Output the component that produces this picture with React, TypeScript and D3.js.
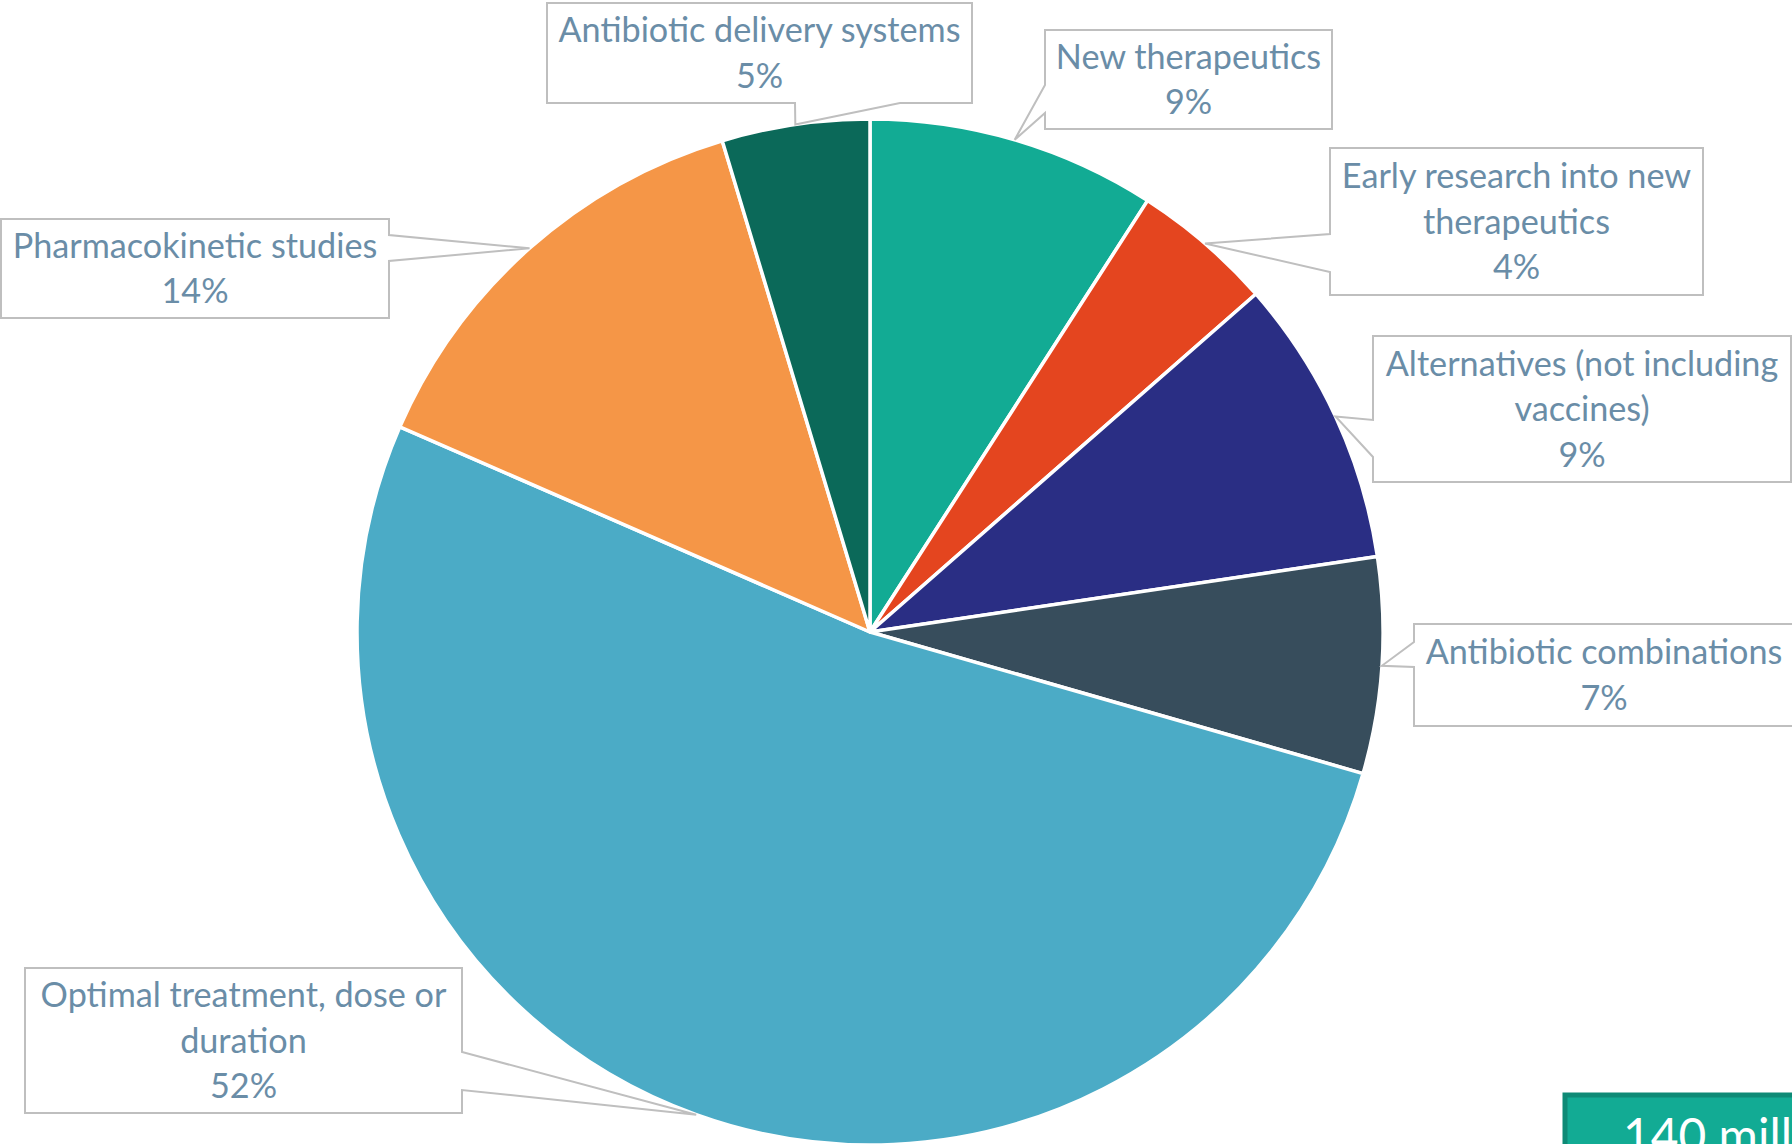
import React, { useLayoutEffect, useState } from "react";
import * as d3 from "d3";

// ---- data ----
const categories = [
  "New therapeutics",
  "Early research into new\ntherapeutics",
  "Alternatives (not including\nvaccines)",
  "Antibiotic combinations",
  "Optimal treatment, dose or\nduration",
  "Pharmacokinetic studies",
  "Antibiotic delivery systems",
];
const shares = [9.1, 4.45, 9.1, 6.8, 52.1, 13.8, 4.65];
const sliceColors = ["#12AB94", "#E4451F", "#2A2E84", "#374D5C", "#4BABC6", "#F59647", "#0B6959"];
const footerText = "140 million";

// ---- layout (callout boxes: x0,y0,x1,y1, side, attach a,b) ----
type Box = { x0: number; y0: number; x1: number; y1: number; side: "left" | "right" | "bottom"; a: number; b: number };
const boxes: Box[] = [
  { x0: 1045, y0: 30, x1: 1332, y1: 129, side: "left", a: 85, b: 113 },
  { x0: 1330, y0: 148, x1: 1703, y1: 295, side: "left", a: 234, b: 272 },
  { x0: 1373, y0: 336, x1: 1791, y1: 482, side: "left", a: 420, b: 457 },
  { x0: 1414, y0: 624, x1: 1794, y1: 726, side: "left", a: 642, b: 667 },
  { x0: 25, y0: 968, x1: 462, y1: 1113, side: "right", a: 1052, b: 1090 },
  { x0: 1, y0: 219, x1: 389, y1: 318, side: "right", a: 235, b: 261 },
  { x0: 547, y0: 3, x1: 972, y1: 103, side: "bottom", a: 795, b: 900 },
];

const W = 1792;
const H = 1144;
const CX = 870;
const CY = 632;
const R = 513;
const FONT_NAME = "Lato";
const FONT = "Lato, 'Noto Sans', sans-serif";
const TEXT_COLOR = "#6A8DA7";
const LINE_H = 45.5;

function calloutPath(bx: Box, tip: [number, number]) {
  const { x0, y0, x1, y1, side, a, b } = bx;
  const [tx, ty] = tip;
  if (side === "left") {
    return `M${x0},${y0}H${x1}V${y1}H${x0}V${b}L${tx},${ty}L${x0},${a}Z`;
  }
  if (side === "right") {
    return `M${x0},${y0}H${x1}V${a}L${tx},${ty}L${x1},${b}V${y1}H${x0}Z`;
  }
  return `M${x0},${y0}H${x1}V${y1}H${b}L${tx},${ty}L${a},${y1}H${x0}Z`;
}

function fitFontSize(): number {
  try {
    const c = document.createElement("canvas");
    const ctx = c.getContext("2d");
    if (!ctx) return 35;
    ctx.font = `100px ${FONT_NAME}`;
    const w = ctx.measureText("Antibiotic delivery systems").width;
    return w > 0 ? (100 * 403) / w : 35;
  } catch {
    return 35;
  }
}

export default function App() {
  const [fs, setFs] = useState(35);

  useLayoutEffect(() => {
    document.body.style.margin = "0";
    document.body.style.overflow = "hidden";
    setFs(fitFontSize());
  }, []);

  const total = d3.sum(shares);
  const pie = d3.pie<number>().sort(null).value((d) => d).startAngle(0).endAngle(2 * Math.PI);
  const arcs = pie(shares);
  const arc = d3.arc<d3.PieArcDatum<number>>().innerRadius(0).outerRadius(R);
  const rimArc = d3.arc<d3.PieArcDatum<number>>().innerRadius(R).outerRadius(R);

  return (
    <svg width={W} height={H} style={{ position: "absolute", left: 0, top: 0, display: "block" }}>
      <rect width={W} height={H} fill="#ffffff" />
      <g transform={`translate(${CX},${CY})`}>
        {arcs.map((d, i) => (
          <path key={i} d={arc(d) || ""} fill={sliceColors[i]} stroke="#ffffff" strokeWidth={3.5} strokeLinejoin="round" />
        ))}
      </g>
      {arcs.map((d, i) => {
        const c = rimArc.centroid(d);
        const tip: [number, number] = [CX + c[0], CY + c[1]];
        const bx = boxes[i];
        const lines = [...categories[i].split("\n"), `${Math.round((shares[i] / total) * 100)}%`];
        const cx = (bx.x0 + bx.x1) / 2;
        const cy = (bx.y0 + bx.y1) / 2;
        const n = lines.length;
        return (
          <g key={"lab" + i}>
            <path d={calloutPath(bx, tip)} fill="#ffffff" stroke="#BFBFBF" strokeWidth={2} strokeLinejoin="miter" />
            {lines.map((t, j) => (
              <text
                key={j}
                x={cx}
                y={cy + (j - (n - 1) / 2) * LINE_H + 12}
                textAnchor="middle"
                fontFamily={FONT}
                fontSize={fs}
                fill={TEXT_COLOR}
              >
                {t}
              </text>
            ))}
          </g>
        );
      })}
      <g>
        <rect x={1565} y={1095} width={400} height={120} fill="#12AB94" stroke="#0E8A76" strokeWidth={5} />
        <text x={1623} y={1153} fontFamily={FONT} fontSize={fs * 1.4} fill="#ffffff">
          {footerText}
        </text>
      </g>
    </svg>
  );
}
